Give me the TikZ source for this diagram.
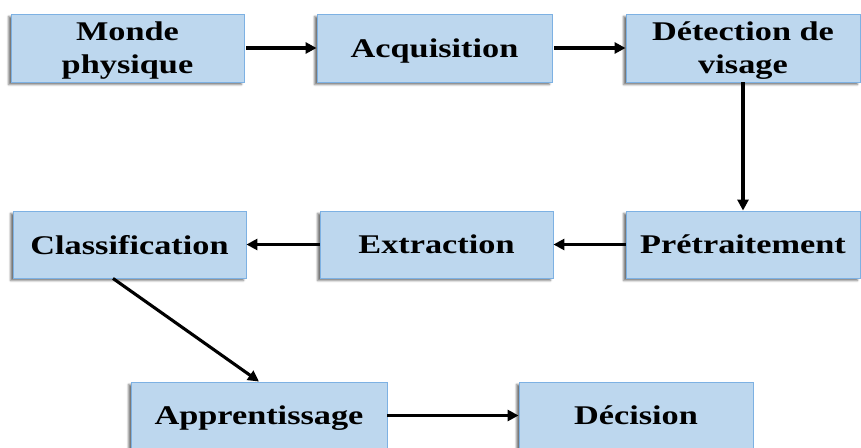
\documentclass[tikz,border=0pt]{standalone}
\usepackage{fontspec}
\setmainfont{Liberation Serif}[FakeStretch=1.27]
\usetikzlibrary{arrows.meta,shadows.blur}
\definecolor{boxfill}{HTML}{BDD7EE}
\definecolor{boxline}{HTML}{7DB1E3}
\tikzset{
  stage/.style={rectangle, draw=boxline, line width=0.9pt, fill=boxfill,
    align=center, inner sep=0pt, text depth=0pt,
    font=\bfseries\fontsize{27}{33}\selectfont,
    blur shadow={shadow xshift=-2.5pt, shadow yshift=-2.5pt,
      shadow blur radius=2pt, shadow opacity=55}},
  flow/.style={line width=3.1pt, -{Triangle[length=11pt,width=11pt]}}
}
\begin{document}
\begin{tikzpicture}[x=1pt,y=-1pt]
  \useasboundingbox (0,0) rectangle (861,447);
  % first row
  \node[stage, minimum width=233pt, minimum height=68pt] (mon) at (127.5,48) {Monde\\physique};
  \node[stage, minimum width=235pt, minimum height=68pt] (acq) at (434.5,48) {Acquisition};
  \node[stage, minimum width=234pt, minimum height=68pt] (det) at (743,48) {Détection de\\visage};
  % second row
  \node[stage, minimum width=234pt, minimum height=67pt] (pre) at (743,244.5) {Prétraitement};
  \node[stage, minimum width=233pt, minimum height=67pt] (ext) at (436.5,244.5) {Extraction};
  \node[stage, minimum width=233pt, minimum height=67pt] (cls) at (129.5,244.5) {Classification};
  % third row
  \node[stage, minimum width=256pt, minimum height=67pt] (app) at (259,415.5) {Apprentissage};
  \node[stage, minimum width=234pt, minimum height=67pt] (dec) at (636,415.5) {Décision};
  % connectors
  \draw[flow, shorten <=2pt] (mon.east) -- (acq.west);
  \draw[flow, shorten <=2pt] (acq.east) -- (det.west);
  \draw[flow] (det.south) -- (pre.north);
  \draw[flow] (pre.west) -- (ext.east);
  \draw[flow] (ext.west) -- (cls.east);
  \draw[flow] ([xshift=-16.5pt]cls.south) -- (app.north);
  \draw[flow] (app.east) -- (dec.west);
\end{tikzpicture}
\end{document}
